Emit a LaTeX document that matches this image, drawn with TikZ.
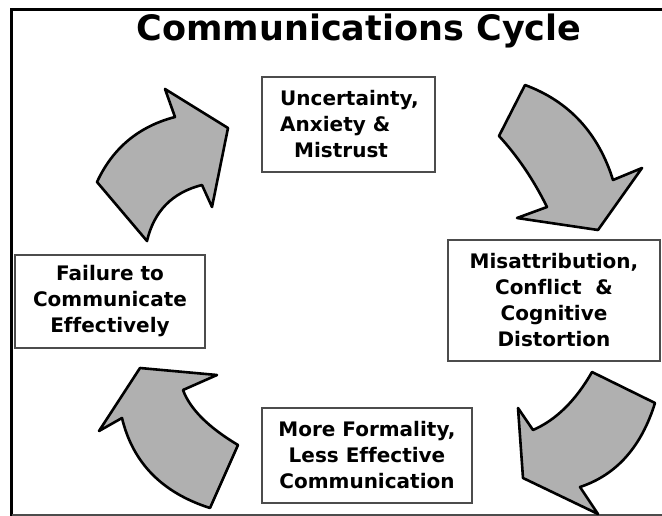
\documentclass[tikz,border=0pt]{standalone}
\usepackage{fontspec}
\setmainfont{DejaVu Sans}[Ligatures=NoCommon]
\usepackage{tikz}
\usetikzlibrary{positioning}

\definecolor{arrowgray}{gray}{0.69}
\definecolor{boxline}{gray}{0.3}

\tikzset{
  cyclebox/.style={draw=boxline, line width=1.8pt, fill=white, align=center,
    inner sep=0pt, font=\fontsize{20pt}{26pt}\selectfont\bfseries},
  cyclearrow/.style={fill=arrowgray, draw=black, line width=2.6pt, line join=round},
}

\begin{document}
\begin{tikzpicture}[x=1pt, y=-1pt]
\useasboundingbox (0,0) rectangle (662,516);
% frame
\draw[line width=3pt] (11.5,516) -- (11.5,9.5) -- (662,9.5);
\draw[line width=1.8pt, gray!60!black] (11.5,515) -- (662,515);

\node[font=\fontsize{35pt}{40pt}\selectfont\bfseries, anchor=base] (title) at (359,41) {Communications Cycle};

% the four stages
\node[cyclebox, minimum width=173pt, minimum height=95pt, align=left] (uncert) at (348.5,124.5)
  {\hspace*{2pt}Uncertainty,\\\hspace*{2pt}Anxiety \&\\\hspace*{16pt}Mistrust};
\node[cyclebox, minimum width=212pt, minimum height=121pt] (misattr) at (554,300.5)
  {Misattribution,\\Conflict\ \ \&\\Cognitive\\Distortion};
\node[cyclebox, minimum width=210pt, minimum height=95pt] (formal) at (367,455.5)
  {More Formality,\\Less Effective\\Communication};
\node[cyclebox, minimum width=190pt, minimum height=93pt] (failure) at (110,301.5)
  {Failure to\\Communicate\\Effectively};

% arrow: failure -> uncertainty
\draw[cyclearrow] (97,182) .. controls (112.7,148.1) and (138.7,126.4) .. (175,117) -- (165,89)
  -- (228,128) -- (212,207) -- (202,185) .. controls (172.3,192.5) and (154,211.1) .. (147,241) -- cycle;
% arrow: uncertainty -> misattribution
\draw[cyclearrow] (525,85) .. controls (569,101.3) and (598.3,133) .. (613,180) -- (642,168)
  -- (598,230) -- (517,218) -- (547,207) .. controls (533.7,180) and (517.7,156.3) .. (499,136) -- cycle;
% arrow: misattribution -> formality
\draw[cyclearrow] (592,372) -- (655,403) .. controls (641.3,447) and (616.3,475) .. (580,487)
  -- (598,514) -- (523,478) -- (518,408) -- (533,430) .. controls (556,420) and (575.7,400.7) .. cycle;
% arrow: formality -> failure
\draw[cyclearrow] (140,368) -- (217,375) -- (183,390) .. controls (190,409) and (208.3,427.3) .. (238,445)
  -- (210,508) .. controls (162,492.7) and (132.7,462.7) .. (122,418) -- (99,431) -- cycle;
\end{tikzpicture}
\end{document}
